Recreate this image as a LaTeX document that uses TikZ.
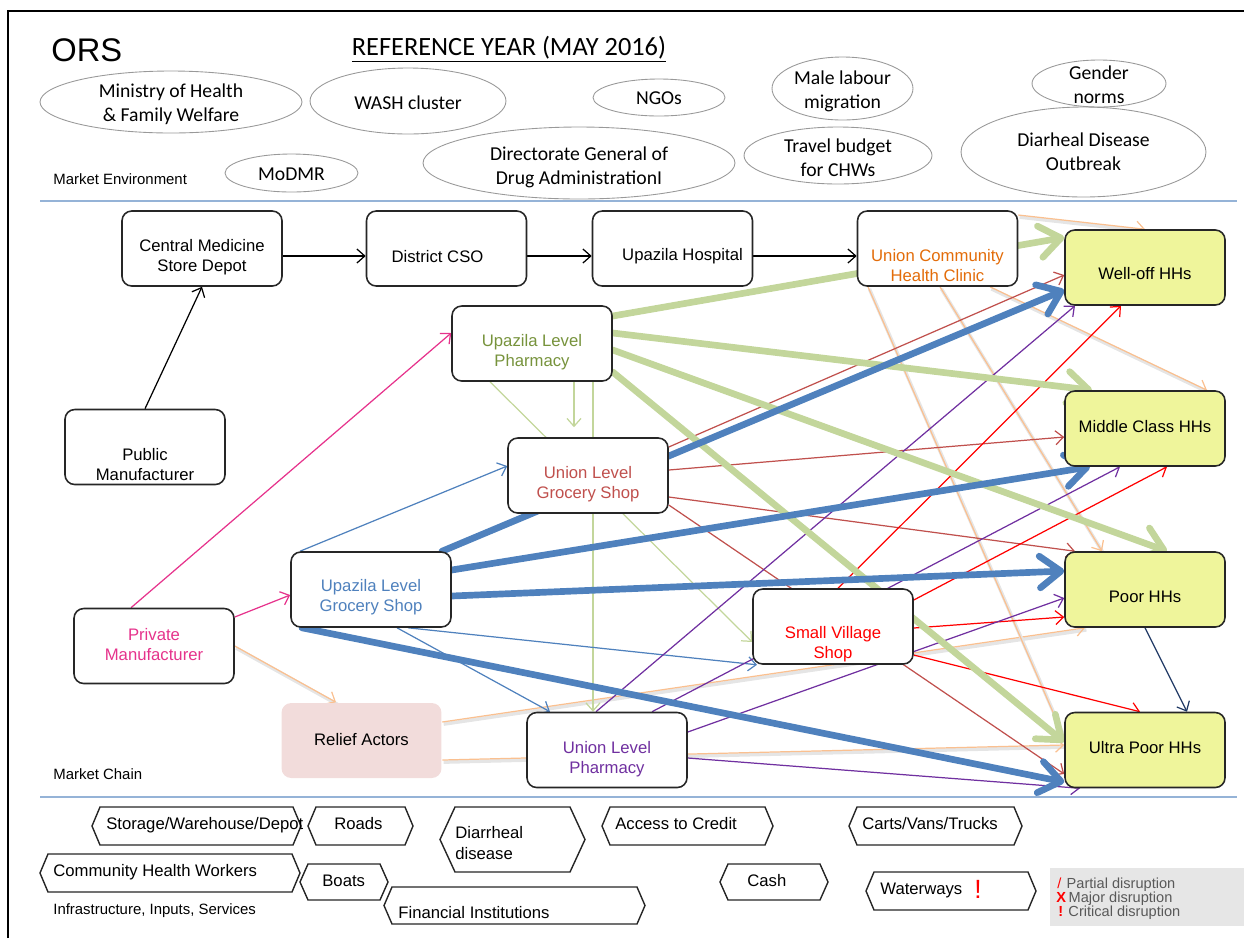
\documentclass[tikz,border=0pt]{standalone}
\usepackage{fontspec}
\setmainfont{Liberation Sans}
\newfontfamily\carlito{Carlito}
\usetikzlibrary{arrows.meta,shapes.geometric,backgrounds}

\definecolor{chaingreen}{HTML}{C3D69B}
\definecolor{chainblue}{HTML}{4F81BD}
\definecolor{chainred}{HTML}{C0504D}
\definecolor{chainpurple}{HTML}{7030A0}
\definecolor{chaintan}{HTML}{FAC090}
\definecolor{chainpink}{HTML}{E6338C}
\definecolor{clinicorange}{HTML}{E36C09}
\definecolor{pharmgreen}{HTML}{77933C}
\definecolor{hhyellow}{HTML}{EFF59B}
\definecolor{reliefpink}{HTML}{F2DCDB}
\definecolor{rulecolor}{HTML}{95B3D7}
\definecolor{navyline}{HTML}{1F3864}
\definecolor{legendgrey}{HTML}{E6E6E6}
\definecolor{legendtext}{HTML}{595959}

\tikzset{
  rule/.style={draw=rulecolor, line width=0.9pt},
  actor/.style={draw=black!85, line width=0.9pt, rounded corners=5.5pt, fill=white,
    minimum width=3.2cm, minimum height=1.5cm, inner sep=0pt},
  hh/.style={actor, fill=hhyellow},
  relief/.style={actor, draw=none, fill=reliefpink},
  boxtext/.style={font=\fontsize{9.5}{11.4}\selectfont, align=center, inner sep=0pt},
  envoval/.style={ellipse, draw=black!40, line width=0.5pt, inner sep=0pt},
  envtext/.style={align=center, inner sep=0pt, font=\carlito\fontsize{11.2}{13.6}\selectfont},
  sectionlbl/.style={anchor=west, inner sep=0pt, font=\fontsize{8.5}{10}\selectfont},
  flow/.style={line width=0.7pt, -{Straight Barb[length=4.5pt,width=8pt]}},
  bigflow/.style={line width=3.8pt, line cap=round, -{Straight Barb[length=12pt,width=18pt,round]}},
  tanflow/.style={flow, draw=chaintan,
    preaction={-, draw=black!10, line width=2pt, transform canvas={xshift=0.8pt,yshift=-1.2pt}}},
  infra/.style={draw=black!85, line width=0.8pt, fill=white},
  infratext/.style={anchor=west, inner sep=0pt, font=\fontsize{9.5}{11.4}\selectfont},
  legendtxt/.style={anchor=west, inner sep=0pt, text=legendtext, font=\fontsize{8.3}{9}\selectfont}
}

% pointed box of the infrastructure row: x0, x1, y0, y1, slant
\newcommand\infrashape[5]{%
  \draw[infra] (#1,{(#3+#4)/2}) -- (#1+#5,#3) -- (#2-#5,#3) -- (#2,{(#3+#4)/2})
    -- (#2-#5,#4) -- (#1+#5,#4) -- cycle;}

\begin{document}
\begin{tikzpicture}[x=0.02cm,y=-0.02cm]
\useasboundingbox (0,0) rectangle (1244,938);

% frame and section rules
\draw[line width=1.1pt] (8,938) -- (8,11) -- (1244,11);
\draw[rule] (40,201) -- (1237,201);
\draw[rule] (40,797) -- (1237,797);

% headings
\node[anchor=west, inner sep=0pt, font=\fontsize{18.6}{20}\selectfont] (ors) at (51,50) {ORS};
\node[inner sep=0pt, font=\carlito\fontsize{15}{18}\selectfont] (title) at (509,49)
  {\underline{REFERENCE YEAR (MAY 2016)}};
\node[sectionlbl] (menv) at (53,179) {Market Environment};
\node[sectionlbl] (mchain) at (53,774) {Market Chain};
\node[sectionlbl] (infra) at (53,911) {Infrastructure, Inputs, Services};

% market environment
\node[envoval, minimum width=5.24cm, minimum height=1.24cm,
  label={[envtext,yshift=-0.05cm]center:Ministry of Health\\\& Family Welfare}] (moh) at (171,102) {};
\node[envoval, minimum width=3.92cm, minimum height=1.32cm,
  label={[envtext,yshift=-0.04cm]center:WASH cluster}] (wash) at (408,101) {};
\node[envoval, minimum width=2.64cm, minimum height=0.74cm,
  label={[envtext,yshift=-0.02cm]center:NGOs}] (ngos) at (659,97.5) {};
\node[envoval, minimum width=2.82cm, minimum height=1.26cm,
  label={[envtext,yshift=-0.05cm]center:Male labour\\migration}] (male) at (842.5,88.5) {};
\node[envoval, minimum width=2.68cm, minimum height=0.94cm,
  label={[envtext,yshift=-0.03cm]center:Gender\\norms}] (gender) at (1099,83.5) {};
\node[envoval, minimum width=2.66cm, minimum height=0.76cm,
  label={[envtext,yshift=-0.03cm]center:MoDMR}] (modmr) at (291.5,173) {};
\node[envoval, minimum width=6.24cm, minimum height=1.44cm,
  label={[envtext,yshift=-0.08cm]center:Directorate General of\\Drug AdministrationI}] (dgda) at (579,163) {};
\node[envoval, minimum width=3.76cm, minimum height=1.14cm,
  label={[envtext,yshift=-0.04cm]center:Travel budget\\for CHWs}] (travel) at (838,155.5) {};
\node[envoval, minimum width=4.9cm, minimum height=1.8cm,
  label={[envtext,yshift=0.0cm]center:Diarheal Disease\\Outbreak}] (outbreak) at (1083.5,152) {};

% market chain actors
\node[actor, label={[boxtext,yshift=-0.17cm]center:Central Medicine\\Store Depot}] (cmsd) at (202,248.5) {};
\node[actor, label={[boxtext,yshift=-0.16cm,xshift=-0.18cm]center:District CSO}] (dcso) at (446.5,248.5) {};
\node[actor, label={[boxtext,yshift=-0.16cm,xshift=0.2cm]center:Upazila Hospital}] (uh) at (672.5,248.5) {};
\node[actor, label={[boxtext,text=clinicorange,yshift=-0.34cm]center:Union Community\\Health Clinic}] (uchc) at (937.5,248.5) {};
\node[actor, label={[boxtext,text=pharmgreen,yshift=-0.17cm]center:Upazila Level\\Pharmacy}] (ulp) at (532,343.5) {};
\node[actor, label={[boxtext,yshift=-0.35cm]center:Public\\Manufacturer}] (pubm) at (145,447) {};
\node[actor, label={[boxtext,text=chainred,yshift=-0.18cm]center:Union Level\\Grocery Shop}] (ulgs) at (588,475.5) {};
\node[actor, label={[boxtext,text=chainblue,yshift=-0.16cm]center:Upazila Level\\Grocery Shop}] (ugs) at (371,589.5) {};
\node[actor, label={[boxtext,text=chainpink,yshift=0.02cm]center:Private\\Manufacturer}] (privm) at (154,646) {};
\node[actor, label={[boxtext,text=red,yshift=-0.36cm]center:Small Village\\Shop}] (svs) at (833,626.5) {};
\node[relief, label={[boxtext,yshift=0.02cm]center:Relief Actors}] (relief) at (361.5,740.5) {};
\node[actor, label={[boxtext,text=chainpurple,yshift=-0.18cm]center:Union Level\\Pharmacy}] (ulph) at (607,750) {};

% households
\node[hh, label={[boxtext,yshift=-0.12cm]center:Well-off HHs}] (welloff) at (1145,267.5) {};
\node[hh, label={[boxtext,yshift=0.04cm]center:Middle Class HHs}] (middle) at (1145,428.5) {};
\node[hh, label={[boxtext,yshift=-0.14cm]center:Poor HHs}] (poor) at (1145,589.5) {};
\node[hh, label={[boxtext,yshift=0.04cm]center:Ultra Poor HHs}] (ultra) at (1145,750) {};

\begin{pgfonlayer}{background}
  % public supply spine
  \draw[flow] ([shift={(0,7.5)}]cmsd.east) -- ([shift={(0,7.5)}]dcso.west);
  \draw[flow] ([shift={(0,7.5)}]dcso.east) -- ([shift={(0,7.5)}]uh.west);
  \draw[flow] ([shift={(0,7.5)}]uh.east) -- ([shift={(0,7.5)}]uchc.west);
  \draw[flow] (pubm.north) -- (cmsd.south);

  % private manufacturer
  \draw[flow, draw=chainpink] ([shift={(-23,0)}]privm.north) -- ([shift={(0,-10.5)}]ulp.west);
  \draw[flow, draw=chainpink] ([shift={(0,-29)}]privm.east) -- ([shift={(0,5.5)}]ugs.west);

  % relief and clinic distribution
  \draw[tanflow] (privm.east) -- ([shift={(-25.5,0)}]relief.north);
  \draw[tanflow] ([shift={(0,-18.5)}]relief.east) -- ([shift={(-60,0)}]poor.south);
  \draw[tanflow] ([shift={(0,19.5)}]relief.east) -- ([shift={(0,-5)}]ultra.west);
  \draw[tanflow] ([shift={(0,-33.5)}]uchc.east) -- (welloff.north);
  \draw[tanflow] ([shift={(52.5,0)}]uchc.south) -- ([shift={(62,0)}]middle.north);
  \draw[tanflow] ([shift={(2.5,0)}]uchc.south) -- ([shift={(-43,0)}]poor.north);
  \draw[tanflow] ([shift={(-69.5,0)}]uchc.south) -- ([shift={(0,-12)}]ultra.west);

  % upazila level pharmacy
  \draw[flow, draw=chaingreen] ([shift={(42,0)}]ulp.south) -- ([shift={(-14,-10)}]ulgs.north);
  \draw[flow, draw=chaingreen] ([shift={(61,0)}]ulp.south) -- ([shift={(-14,0)}]ulph.north);
  \draw[flow, draw=chaingreen] ([shift={(-42,0)}]ulp.south) -- ([shift={(0,15.5)}]svs.west);

  % upazila level grocery shop, minor links
  \draw[flow, draw=chainblue] ([shift={(-71,0)}]ugs.north) -- ([shift={(0,-9.5)}]ulgs.west);
  \draw[flow, draw=chainblue] ([shift={(26,0)}]ugs.south) -- ([shift={(-57,0)}]ulph.north);
  \draw[flow, draw=chainblue] ([shift={(37,0)}]ugs.south) -- ([shift={(-76,0)}]svs.south);

  % union level grocery shop
  \draw[flow, draw=chainred] ([shift={(0,-28.5)}]ulgs.east) -- ([shift={(0,7.5)}]welloff.west);
  \draw[flow, draw=chainred] ([shift={(0,-5.5)}]ulgs.east) -- ([shift={(0,8.5)}]middle.west);
  \draw[flow, draw=chainred] ([shift={(0,21.5)}]ulgs.east) -- ([shift={(-70,0)}]poor.north);
  \draw[flow, draw=chainred] ([shift={(0,29.5)}]ulgs.east) -- ([shift={(0,24)}]ultra.west);

  % small village shop
  \draw[flow, draw=red] ([shift={(5,0)}]svs.north) -- ([shift={(-24,0)}]welloff.south);
  \draw[flow, draw=red] ([shift={(0,-26.5)}]svs.east) -- ([shift={(22,0)}]middle.south);
  \draw[flow, draw=red] ([shift={(0,1.5)}]svs.east) -- ([shift={(0,27.5)}]poor.west);
  \draw[flow, draw=red] ([shift={(0,28.5)}]svs.east) -- ([shift={(-5,0)}]ultra.north);

  % union level pharmacy
  \draw[flow, draw=chainpurple] ([shift={(-11,0)}]ulph.north) -- ([shift={(-70,0)}]welloff.south);
  \draw[flow, draw=chainpurple] ([shift={(45,0)}]ulph.north) -- ([shift={(-25,0)}]middle.south);
  \draw[flow, draw=chainpurple] ([shift={(0,-18)}]ulph.east) -- ([shift={(0,8.5)}]poor.west);
  \draw[flow, draw=chainpurple] ([shift={(0,8)}]ulph.east) -- ([shift={(-65,0)}]ultra.south);

  % main flows
  \draw[bigflow, draw=chaingreen] ([shift={(0,-27.5)}]ulp.east) -- ([shift={(0,-30)}]welloff.west);
  \draw[bigflow, draw=chaingreen] ([shift={(0,-10.5)}]ulp.east) -- ([shift={(-53,0)}]middle.north);
  \draw[bigflow, draw=chaingreen] ([shift={(0,6.5)}]ulp.east) -- ([shift={(22,0)}]poor.north);
  \draw[bigflow, draw=chaingreen] ([shift={(0,28.5)}]ulp.east) -- ([shift={(0,-8)}]ultra.west);
  \draw[bigflow, draw=chainblue] ([shift={(71,0)}]ugs.north) -- ([shift={(0,22.5)}]welloff.west);
  \draw[bigflow, draw=chainblue] ([shift={(0,-19.5)}]ugs.east) -- ([shift={(-55,0)}]middle.south);
  \draw[bigflow, draw=chainblue] ([shift={(0,6.5)}]ugs.east) -- ([shift={(0,-18.5)}]poor.west);
  \draw[bigflow, draw=chainblue] ([shift={(-69,0)}]ugs.south) -- ([shift={(0,32)}]ultra.west);

  % poor to ultra poor
  \draw[flow, draw=navyline] (poor.south) -- ([shift={(42,0)}]ultra.north);
\end{pgfonlayer}

% infrastructure, inputs, services
\infrashape{92}{301}{807}{845}{8}
\infrashape{308}{413}{807}{845}{8}
\infrashape{440}{585}{807}{872}{15}
\infrashape{602}{773}{807}{845}{8}
\infrashape{849}{1022}{807}{845}{8}
\infrashape{40}{300}{854}{892}{8}
\infrashape{384}{645}{887}{924}{8}
\infrashape{300}{388}{864}{900}{8}
\infrashape{720}{828}{864}{900}{8}
\infrashape{866}{1036}{872}{910}{8}
\node[infratext] (storage) at (106,825) {Storage/Warehouse/Depot};
\node[infratext] (roads) at (334,824) {Roads};
\node[infratext, align=left] (diarrhea) at (455,843) {Diarrheal\\disease};
\node[infratext] (credit) at (615,824) {Access to Credit};
\node[infratext] (carts) at (862,824) {Carts/Vans/Trucks};
\node[infratext] (chw) at (53,872) {Community Health Workers};
\node[infratext] (boats) at (322,881) {Boats};
\node[infratext] (finance) at (398,913) {Financial Institutions};
\node[infratext] (cash) at (747,881) {Cash};
\node[infratext] (waterways) at (880,890) {Waterways};
\node[inner sep=0pt, text=red, font=\fontsize{15}{15}\selectfont] (critical) at (978,889) {!};

% disruption legend
\fill[legendgrey] (1050,868) rectangle (1244,926);
\node[legendtxt] (lpartial) at (1057,885) {\textcolor{red}{/}\hspace{3pt}Partial disruption};
\node[legendtxt] (lmajor) at (1056,899) {\textcolor{red}{\textbf{X}}\hspace{1.5pt}Major disruption};
\node[legendtxt] (lcritical) at (1058,913) {\textcolor{red}{\textbf{!}}\hspace{3pt}Critical disruption};
\end{tikzpicture}
\end{document}
